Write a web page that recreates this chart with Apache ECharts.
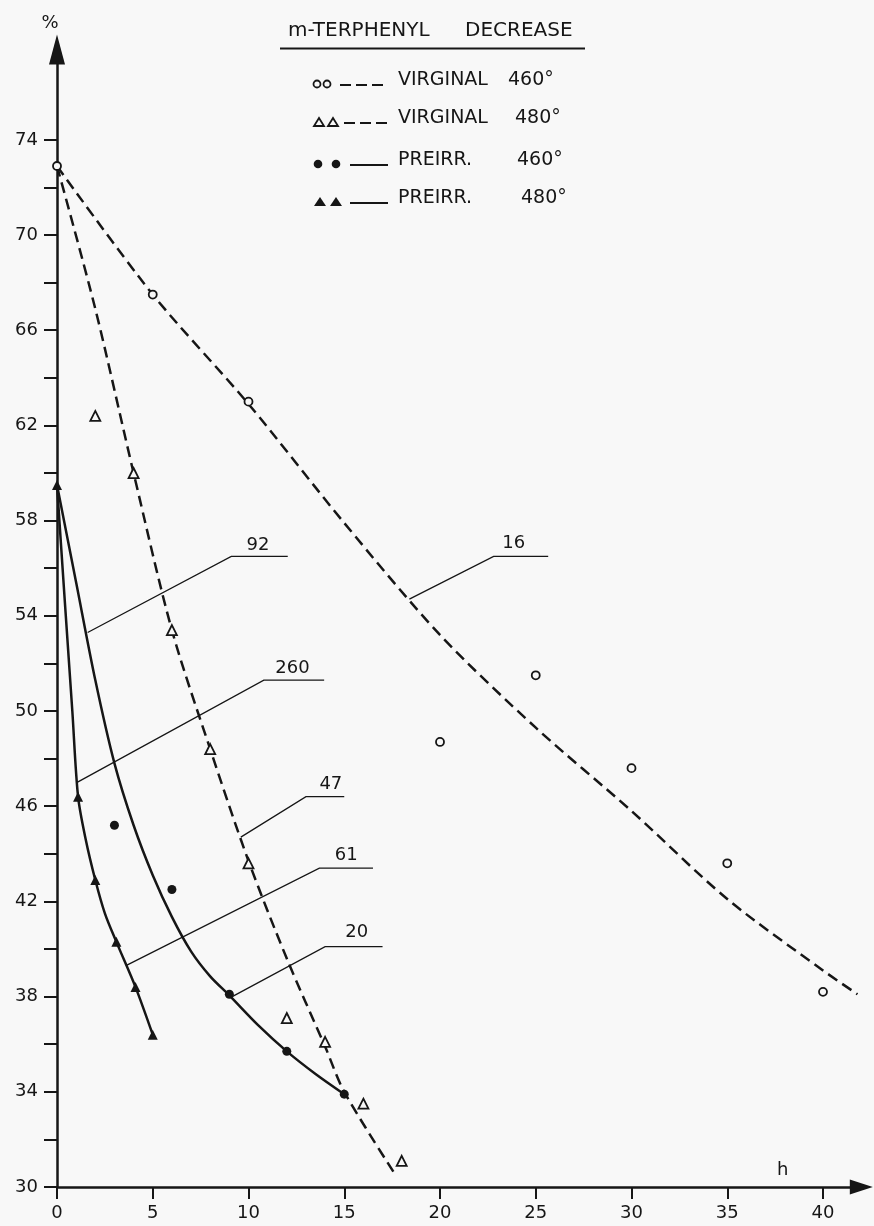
<!DOCTYPE html>
<html><head><meta charset="utf-8">
<script src="https://cdn.jsdelivr.net/npm/echarts@6/dist/echarts.min.js"></script>
<style>html,body{margin:0;padding:0;background:#f8f8f8}#c{width:874px;height:1226px}</style>
</head><body><div id="c"></div>
<script>
// ---------- data ----------
const virginal460Points = [[0,72.9],[5,67.5],[10,63.0],[20,48.7],[25,51.5],[30,47.6],[35,43.6],[40,38.2]];
const virginal460Curve  = [[0,72.9],[5,67.5],[10,62.9],[15,57.9],[20,53.2],[25,49.3],[30,45.8],[35,42.1],[40,39.1],[41.8,38.1]];
const virginal480Points = [[2,62.4],[4,60.0],[6,53.4],[8,48.4],[10,43.6],[12,37.1],[14,36.1],[16,33.5],[18,31.1]];
const virginal480Curve  = [[0,72.9],[2,66.9],[4,60.0],[6,53.4],[8,48.4],[10,43.7],[12,39.6],[14,35.9],[15,34.0],[17.6,30.6]];
const preirr460Points   = [[3,45.2],[6,42.5],[9,38.1],[12,35.7],[15,33.9]];
const preirr460Curve    = [[0,59.5],[1,55.4],[2,51.3],[3,47.8],[4,45.2],[5,43.1],[6,41.35],[7,39.9],[8,38.85],[9,38.05],[10.5,36.8],[12,35.7],[13.5,34.75],[15,33.9]];
const preirr480Points   = [[0,59.5],[1.1,46.4],[2,42.9],[3.1,40.3],[4.1,38.4],[5,36.4]];
const preirr480Curve    = [[0,59.5],[0.4,54.7],[0.8,50.0],[1.1,46.4],[1.5,44.6],[2,42.9],[2.5,41.5],[3.1,40.3],[4.1,38.4],[5,36.4]];

const calloutLabels   = ['92','260','47','61','20','16'];
const calloutStarts   = [[1.6,53.3],[1.05,47.0],[9.6,44.7],[3.6,39.3],[9.15,38.0],[18.4,54.7]];
const calloutElbows   = [[9.1,56.5],[10.8,51.3],[13.0,46.4],[13.7,43.4],[14.0,40.1],[22.8,56.5]];
const calloutEnds     = [[12.05,56.5],[13.95,51.3],[15.0,46.4],[16.5,43.4],[17.0,40.1],[25.65,56.5]];
const calloutLabelPos = [[10.5,56.95],[12.3,51.8],[14.3,46.9],[15.1,43.95],[15.65,40.7],[23.85,57.05]];

const xLabelValues = [0,5,10,15,20,25,30,35,40];
const yLabelValues = [30,34,38,42,46,50,54,58,62,66,70,74];
const yTickValues  = [30,32,34,36,38,40,42,44,46,48,50,52,54,56,58,60,62,64,66,68,70,72,74];
const xAxisName = 'h';
const xAxisNamePos = [37.9, 30.7];

const titleWords   = ['m-TERPHENYL','DECREASE'];
const legendNames  = ['VIRGINAL','VIRGINAL','PREIRR.','PREIRR.'];
const legendTemps  = ['460°','480°','460°','480°'];

// ---------- styling ----------
const INK = '#161616';
const BG = '#f8f8f8';
const FONT = 'DejaVu Sans';
const DASH = [11,6];

const chart = echarts.init(document.getElementById('c'), null, {renderer:'canvas'});

function curve(data, dashed){
  return {type:'line', data:data, smooth:0.3, showSymbol:false, symbol:'none',
    lineStyle:{color:INK, width:2.5, opacity:1, type: dashed ? DASH : 'solid'}, silent:true, z:2};
}
function points(data, symbol, filled, size){
  return {type:'scatter', data:data, symbol:symbol, symbolSize:size,
    itemStyle: filled ? {color:INK, opacity:1} : {color:BG, borderColor:INK, borderWidth:1.8, opacity:1}, z:5, silent:true};
}

// legend (drawn as graphics)
const rowY = [82,120,162,200];
const graphics = [];
graphics.push({type:'text', left:288, top:33-12, style:{text:titleWords[0], font:'20px "'+FONT+'"', fill:INK}});
graphics.push({type:'text', left:465, top:33-12, style:{text:titleWords[1], font:'20px "'+FONT+'"', fill:INK}});
graphics.push({type:'line', shape:{x1:280,y1:48.5,x2:585,y2:48.5}, style:{stroke:INK, lineWidth:2}});
const tempX = [508,515,517,521];
const sym = [['oc',317,327],['ot',319,333],['fc',318,336],['ft',320,336]];
rowY.forEach((y,i)=>{
  graphics.push({type:'text', left:398, top:y-11, style:{text:legendNames[i], font:'19px "'+FONT+'"', fill:INK}});
  graphics.push({type:'text', left:tempX[i], top:y-11, style:{text:legendTemps[i], font:'19px "'+FONT+'"', fill:INK}});
  const [k,a,b] = sym[i];
  [a,b].forEach(cx=>{
    if(k==='oc') graphics.push({type:'circle', shape:{cx:cx, cy:y+2, r:3.5}, style:{fill:BG, stroke:INK, lineWidth:1.8}});
    if(k==='fc') graphics.push({type:'circle', shape:{cx:cx, cy:y+2, r:4.3}, style:{fill:INK}});
    if(k==='ot') graphics.push({type:'polygon', shape:{points:[[cx,y-2],[cx-5,y+6],[cx+5,y+6]]}, style:{fill:BG, stroke:INK, lineWidth:1.8}});
    if(k==='ft') graphics.push({type:'polygon', shape:{points:[[cx,y-3],[cx-6,y+6],[cx+6,y+6]]}, style:{fill:INK}});
  });
  const x1 = i===0 ? 340 : (i===1 ? 344 : 350);
  graphics.push({type:'line', shape:{x1:x1, y1:y+3, x2:388, y2:y+3},
    style:{stroke:INK, lineWidth:2.2, lineDash: i<2 ? [11,5] : null}});
});

const option = {
  animation:false,
  backgroundColor:BG,
  grid:{left:57, right:12.7, top:49.4, bottom:39},
  xAxis:{type:'value', min:0, max:42,
    axisLine:{show:true, onZero:false, symbol:['none','triangle'], symbolSize:[15,23], lineStyle:{color:INK, width:2.5}},
    axisTick:{show:true, customValues:xLabelValues, length:12, lineStyle:{color:INK, width:2}},
    axisLabel:{customValues:xLabelValues, margin:17, fontSize:18, color:INK, fontFamily:FONT},
    splitLine:{show:false}},
  yAxis:{type:'value', min:30, max:77.8,
    name:'%', nameLocation:'end', nameGap:17,
    nameTextStyle:{fontSize:18, color:INK, fontFamily:FONT, padding:[0,14,0,0]},
    axisLine:{show:true, onZero:false, symbol:['none','triangle'], symbolSize:[16,30], lineStyle:{color:INK, width:2.5}},
    axisTick:{show:true, customValues:yTickValues, length:13, lineStyle:{color:INK, width:2}},
    axisLabel:{customValues:yLabelValues, margin:19, fontSize:18, color:INK, fontFamily:FONT},
    splitLine:{show:false}},
  graphic:graphics,
  series:[
    curve(virginal460Curve, true),
    curve(virginal480Curve, true),
    curve(preirr460Curve, false),
    curve(preirr480Curve, false),
    {type:'lines', coordinateSystem:'cartesian2d', polyline:true, silent:true, z:3,
      data: calloutLabels.map((l,i)=>({coords:[calloutStarts[i], calloutElbows[i], calloutEnds[i]]})),
      lineStyle:{color:INK, width:1.3, opacity:1}},
    {type:'scatter', symbol:'circle', symbolSize:1, silent:true, z:6,
      itemStyle:{color:'rgba(0,0,0,0)', opacity:1},
      data: calloutLabels.map((l,i)=>({name:l, value:calloutLabelPos[i]})),
      label:{show:true, position:'inside', formatter:p=>p.name, fontSize:18, color:INK, fontFamily:FONT}},
    points(virginal460Points, 'circle', false, 8),
    points(virginal480Points, 'triangle', false, 10),
    points(preirr460Points, 'circle', true, 9),
    points(preirr480Points, 'triangle', true, 10)
  ]
};
chart.setOption(option);

// axis name "h" placed above the x axis near its end
const hp = chart.convertToPixel({xAxisIndex:0, yAxisIndex:0}, xAxisNamePos);
chart.setOption({graphic: graphics.concat([{type:'text', x:hp[0], y:hp[1],
  style:{text:xAxisName, font:'18px "'+FONT+'"', fill:INK, align:'center', verticalAlign:'middle'}}])});
</script>
</body></html>
